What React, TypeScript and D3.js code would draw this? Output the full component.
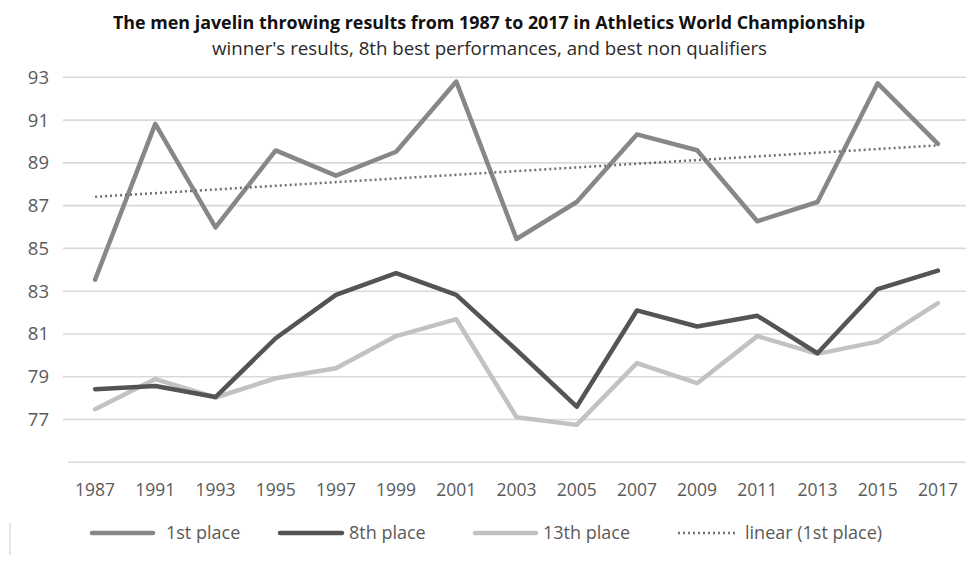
import React from "react";
import * as d3 from "d3";

const years = ["1987","1991","1993","1995","1997","1999","2001","2003","2005","2007","2009","2011","2013","2015","2017"];
const first = [83.54, 90.82, 85.98, 89.58, 88.40, 89.52, 92.80, 85.44, 87.17, 90.33, 89.59, 86.27, 87.17, 92.72, 89.89];
const eighth = [78.42, 78.57, 78.05, 80.8, 82.83, 83.84, 82.83, 80.25, 77.6, 82.1, 81.35, 81.85, 80.1, 83.1, 83.96];
const thirteenth = [77.48, 78.89, 78.03, 78.93, 79.4, 80.9, 81.69, 77.11, 76.75, 79.64, 78.7, 80.9, 80.07, 80.64, 82.44];
const yTicks = [75, 77, 79, 81, 83, 85, 87, 89, 91, 93];
const yTickLabels = ["", "77", "79", "81", "83", "85", "87", "89", "91", "93"];
const seriesNames = ["1st place", "8th place", "13th place", "linear (1st place)"];

const title = "The men javelin throwing results from 1987 to 2017 in Athletics World Championship";
const subtitle = "winner's results, 8th best performances, and best non qualifiers";

export default function App() {
  const W = 977, H = 562;
  const x = d3.scaleBand<string>().domain(years).range([65, 968]);
  const cx = (i: number) => (x(years[i]) as number) + x.bandwidth() / 2;
  const y = d3.scaleLinear().domain([75, 93]).range([462.3, 77.3]);
  const line = d3.line<number>().x((_, i) => cx(i)).y((v) => y(v));

  // linear trend (least squares) of 1st place
  const n = first.length;
  const mx = (n - 1) / 2;
  const my = d3.mean(first) as number;
  let sxy = 0, sxx = 0;
  first.forEach((v, i) => { sxy += (i - mx) * (v - my); sxx += (i - mx) * (i - mx); });
  const slope = sxy / sxx;
  const intercept = my - slope * mx;
  const trend = [intercept, intercept + slope * (n - 1)];

  const font = "'Open Sans', 'DejaVu Sans', sans-serif";
  const colors = ["#878787", "#545454", "#c2c2c2", "#707070"];
  const lw = 4.5;

  const legend = [
    { x1: 92, x2: 153, tx: 166, dash: undefined as string | undefined, w: lw },
    { x1: 280, x2: 342, tx: 349, dash: undefined, w: lw },
    { x1: 475, x2: 536, tx: 543, dash: undefined, w: lw },
    { x1: 678, x2: 737, tx: 745, dash: "2 3", w: 2.5 },
  ];
  const ly = 533;

  return (
    <svg width={W} height={H} style={{ position: "absolute", left: 0, top: 0, background: "#fff" }}>
      <rect x={0} y={0} width={W} height={H} fill="#fff" />
      <text x={489} y={29} textAnchor="middle" fontFamily={font} fontWeight="bold" fontSize={18}
        fill="#111" textLength={752} lengthAdjust="spacingAndGlyphs">{title}</text>
      <text x={489.5} y={55} textAnchor="middle" fontFamily={font} fontSize={17.5}
        fill="#2a2a2a" textLength={555} lengthAdjust="spacingAndGlyphs">{subtitle}</text>

      {yTicks.map((t, i) => (
        <g key={t}>
          <line x1={i === 0 ? 68 : 63} x2={966} y1={y(t)} y2={y(t)} stroke="#d9d9d9" strokeWidth={1.6} />
          <text x={49} y={y(t)} dy="0.35em" textAnchor="end" fontFamily={font} fontSize={18.5} fill="#5a5a5a">
            {yTickLabels[i]}
          </text>
        </g>
      ))}

      {years.map((yr, i) => (
        <text key={yr} x={cx(i)} y={496} textAnchor="middle" fontFamily={font} fontSize={18}
          fill="#5a5a5a" textLength={40} lengthAdjust="spacingAndGlyphs">{yr}</text>
      ))}

      <path d={line(thirteenth) as string} fill="none" stroke={colors[2]} strokeWidth={lw} strokeLinejoin="round" strokeLinecap="round" />
      <path d={line(eighth) as string} fill="none" stroke={colors[1]} strokeWidth={lw} strokeLinejoin="round" strokeLinecap="round" />
      <path d={line(first) as string} fill="none" stroke={colors[0]} strokeWidth={lw} strokeLinejoin="round" strokeLinecap="round" />
      <line x1={cx(0)} x2={cx(n - 1)} y1={y(trend[0])} y2={y(trend[1])} stroke={colors[3]} strokeWidth={2.5} strokeDasharray="2 3" />

      <line x1={10} x2={10} y1={523} y2={555} stroke="#cfcfcf" strokeWidth={1} />
      {legend.map((l, i) => (
        <g key={i}>
          <line x1={l.x1} x2={l.x2} y1={ly} y2={ly} stroke={colors[i]} strokeWidth={l.w} strokeDasharray={l.dash} strokeLinecap={l.dash ? "butt" : "round"} />
          <text x={l.tx} y={ly} dy="0.35em" fontFamily={font} fontSize={18} fill="#5a5a5a">{seriesNames[i]}</text>
        </g>
      ))}
    </svg>
  );
}
